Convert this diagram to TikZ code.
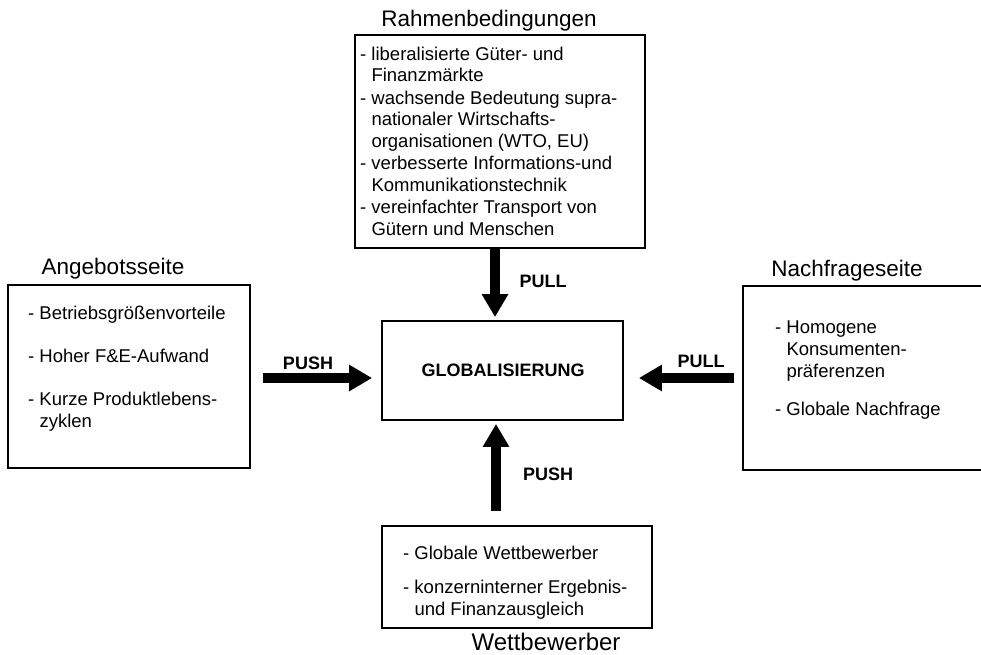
\documentclass[tikz,border=0pt]{standalone}
\usepackage{fontspec}
\setmainfont{Liberation Sans}
\usetikzlibrary{arrows.meta}
\newcommand\blkx[1]{\vtop{\lineskiplimit=-50pt\lineskip=0pt #1}}
\newcommand\lnx[1]{\hbox{#1}}
\newcommand\hangx{\phantom{- }}
\begin{document}
\begin{tikzpicture}[x=1pt,y=-1pt,
  boxx/.style={draw,line width=1.8pt,inner sep=0pt},
  body/.style={font=\fontsize{18.5}{21.5}\selectfont,inner sep=0pt,anchor=base west},
  ttl/.style={font=\fontsize{22.5}{27}\selectfont,inner sep=0pt,anchor=base},
  lbl/.style={font=\bfseries\fontsize{18}{22}\selectfont,inner sep=0pt,anchor=base},
  bigarrow/.style={line width=10pt,-{Triangle[length=23pt,width=25pt]}}]
\clip (0,0) rectangle (981,654);
% boxes
\node[boxx,minimum width=290pt,minimum height=213pt] (rb) at (500,141.5) {};
\node[boxx,minimum width=242pt,minimum height=183pt] (ab) at (129,376.5) {};
\node[boxx,minimum width=250pt,minimum height=184pt] (nb) at (868,378) {};
\node[boxx,minimum width=241pt,minimum height=99pt] (gl) at (502.5,370.5) {};
\node[boxx,minimum width=270pt,minimum height=102pt] (wb) at (517,577) {};
% titles
\node[ttl] (trb) at (489,26) {Rahmenbedingungen};
\node[ttl] (tab) at (113,274) {Angebotsseite};
\node[ttl] (tnb) at (847,276) {Nachfrageseite};
\node[ttl,font=\fontsize{24}{28}\selectfont] (twb) at (546,650) {Wettbewerber};
% body texts
\node[body] (xrb) at (360,60) {\blkx{%
\lnx{- liberalisierte Güter- und}
\lnx{\hangx Finanzmärkte}\vskip1pt
\lnx{- wachsende Bedeutung supra-}
\lnx{\hangx nationaler Wirtschafts-}
\lnx{\hangx organisationen (WTO, EU)}\vskip1pt
\lnx{- verbesserte Informations-und}
\lnx{\hangx Kommunikationstechnik}\vskip1pt
\lnx{- vereinfachter Transport von}
\lnx{\hangx Gütern und Menschen}}};
\node[body,font=\fontsize{18.5}{22}\selectfont] (xab) at (28,319) {\blkx{%
\lnx{- Betriebsgrößenvorteile}\vskip21pt
\lnx{- Hoher F\&E-Aufwand}\vskip21pt
\lnx{- Kurze Produktlebens-}
\lnx{\hangx zyklen}}};
\node[body,font=\fontsize{18.5}{22}\selectfont] (xnb) at (775,333) {\blkx{%
\lnx{- Homogene}
\lnx{\hangx Konsumenten-}
\lnx{\hangx präferenzen}\vskip16pt
\lnx{- Globale Nachfrage}}};
\node[body,font=\fontsize{18.5}{22}\selectfont] (xwb) at (403,559) {\blkx{%
\lnx{- Globale Wettbewerber}\vskip12pt
\lnx{- konzerninterner Ergebnis-}
\lnx{\hangx und Finanzausgleich}}};
\node[lbl] (xgl) at (503,376) {GLOBALISIERUNG};
% arrows
\draw[bigarrow,shorten >=3pt] (rb.south -| 495,0) -- (gl.north -| 495,0);
\draw[bigarrow,shorten <=12pt,shorten >=9pt] (ab.east |- 0,378) -- (gl.west |- 0,378);
\draw[bigarrow,shorten <=8pt,shorten >=15pt] (nb.west |- 0,378) -- (gl.east |- 0,378);
\draw[bigarrow,shorten <=14pt,shorten >=3pt] (wb.north -| 496,0) -- (gl.south -| 496,0);
% arrow labels
\node[lbl] (lrb) at (543,287) {PULL};
\node[lbl] (lab) at (308,369) {PUSH};
\node[lbl] (lnb) at (701,367) {PULL};
\node[lbl] (lwb) at (548,480) {PUSH};
\end{tikzpicture}
\end{document}
